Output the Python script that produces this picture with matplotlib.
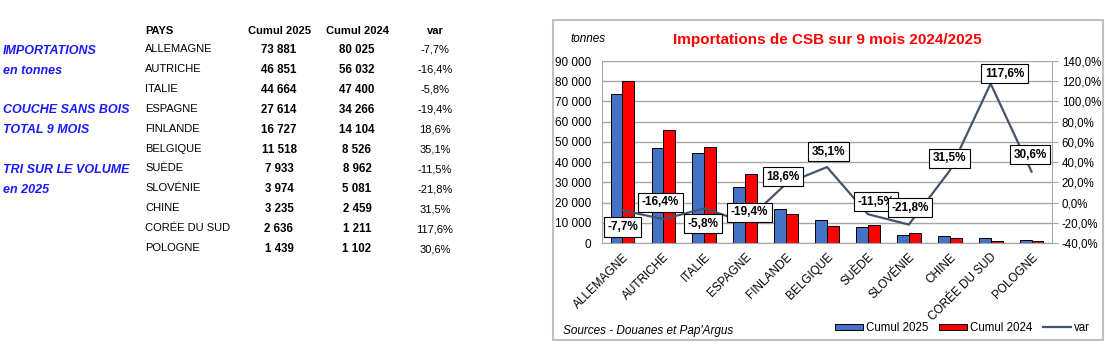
import numpy as np
import matplotlib.pyplot as plt
from matplotlib.patches import Rectangle

plt.rcParams['font.family'] = ['Liberation Sans', 'DejaVu Sans']

pays = ['ALLEMAGNE', 'AUTRICHE', 'ITALIE', 'ESPAGNE', 'FINLANDE', 'BELGIQUE',
        'SUÈDE', 'SLOVÉNIE', 'CHINE', 'CORÉE DU SUD', 'POLOGNE']
cumul_2025 = [73881, 46851, 44664, 27614, 16727, 11518, 7933, 3974, 3235, 2636, 1439]
cumul_2024 = [80025, 56032, 47400, 34266, 14104, 8526, 8962, 5081, 2459, 1211, 1102]
var = [-7.7, -16.4, -5.8, -19.4, 18.6, 35.1, -11.5, -21.8, 31.5, 117.6, 30.6]
# label offsets (points) of the var data labels
lab_off = [(0, -12), (-2, 12), (-1, -11), (3, 7), (-2, 5), (1, 11),
           (6, 9), (1, 12), (0, 9), (10, 7), (-1, 12)]

W, H = 1105, 360
fig = plt.figure(figsize=(W / 100, H / 100), dpi=100)


def fx(x):
    return x / W


def fy(y):
    return 1 - y / H


def fmt_int(v):
    return f"{v:,}".replace(",", " ")


def fmt_pct(v):
    return f"{v:.1f}%".replace(".", ",")


# ---- table on the left
blue = '#1a1aff'
for txt, y in [('IMPORTATIONS', 51), ('en tonnes', 71), ('COUCHE SANS BOIS', 110),
               ('TOTAL 9 MOIS', 130), ('TRI SUR LE VOLUME', 170), ('en 2025', 190)]:
    fig.text(fx(3), fy(y), txt, color=blue, fontsize=9, fontweight='bold',
             fontstyle='italic', va='center', ha='left')

fig.text(fx(145), fy(31), 'PAYS', fontsize=8, fontweight='bold', va='center')
fig.text(fx(279), fy(31), 'Cumul 2025', fontsize=8, fontweight='bold', va='center', ha='center')
fig.text(fx(357), fy(31), 'Cumul 2024', fontsize=8, fontweight='bold', va='center', ha='center')
fig.text(fx(435), fy(31), 'var', fontsize=8, fontweight='bold', va='center', ha='center')
for i, p in enumerate(pays):
    y = 49 + i * 19.9
    fig.text(fx(145), fy(y), p, fontsize=8, va='center')
    fig.text(fx(279), fy(y + 1), fmt_int(cumul_2025[i]), fontsize=8.3, fontweight='bold',
             va='center', ha='center')
    fig.text(fx(357), fy(y + 1), fmt_int(cumul_2024[i]), fontsize=8.3, fontweight='bold',
             va='center', ha='center')
    fig.text(fx(435), fy(y + 1), fmt_pct(var[i]), fontsize=8, va='center', ha='center')

# ---- chart frame
fig.patches.append(Rectangle((fx(553), fy(340)), fx(1103) - fx(553), fy(20) - fy(340),
                             transform=fig.transFigure, fill=False,
                             edgecolor='#bfbfbf', linewidth=1.5))

ax = fig.add_axes([fx(602), fy(243), fx(1052) - fx(602), fy(61) - fy(243)])
x = np.arange(len(pays))
w = 0.29
ax.bar(x - w / 2, cumul_2025, w, color='#4472C4', edgecolor='black', linewidth=0.7,
       label='Cumul 2025', zorder=2)
ax.bar(x + w / 2, cumul_2024, w, color='#FF0000', edgecolor='black', linewidth=0.7,
       label='Cumul 2024', zorder=2)
ax.set_xlim(-0.5, len(pays) - 0.5)
ax.set_ylim(0, 90000)
ax.set_yticks(np.arange(0, 90001, 10000))
ax.set_yticklabels([fmt_int(v) for v in range(0, 90001, 10000)], fontsize=8.5)
ax.grid(axis='y', color='#a6a6a6', linewidth=1, zorder=0)
ax.set_axisbelow(True)
ax.set_xticks(x)
ax.set_xticklabels(pays, rotation=45, ha='right', rotation_mode='anchor', fontsize=8.5)
ax.tick_params(axis='x', length=0, pad=6)
ax.tick_params(axis='y', length=0, pad=8)
for s in ['top', 'right']:
    ax.spines[s].set_visible(False)
for s in ['left', 'bottom']:
    ax.spines[s].set_color('#a6a6a6')

ax2 = ax.twinx()
ax2.plot(x, var, color='#44546A', linewidth=1.6, label='var', zorder=3)
ax2.set_ylim(-40, 140)
ax2.set_yticks(np.arange(-40, 141, 20))
ax2.set_yticklabels([fmt_pct(v) for v in range(-40, 141, 20)], fontsize=8.3)
ax2.tick_params(axis='y', length=4, color='#a6a6a6', pad=3)
for s in ['top', 'left', 'bottom']:
    ax2.spines[s].set_visible(False)
ax2.spines['right'].set_color('#a6a6a6')
for i, v in enumerate(var):
    ax2.annotate(fmt_pct(v), (x[i], v), xytext=lab_off[i], textcoords='offset points',
                 ha='center', va='center', fontsize=8.5, fontweight='bold',
                 bbox=dict(boxstyle='square,pad=0.3', fc='white', ec='black', lw=0.8),
                 zorder=5)

fig.text(fx(827), fy(40), 'Importations de CSB sur 9 mois 2024/2025', color='#FF0000',
         fontsize=11, fontweight='bold', ha='center', va='center')
fig.text(fx(570), fy(39), 'tonnes', fontsize=8.5, fontstyle='italic', va='center')
fig.text(fx(563), fy(331), "Sources - Douanes et Pap'Argus", fontsize=8.5,
         fontstyle='italic', va='center')

h1, l1 = ax.get_legend_handles_labels()
h2, l2 = ax2.get_legend_handles_labels()
fig.legend(h1 + h2, l1 + l2, loc='center right', bbox_to_anchor=(fx(1096), fy(328)),
           ncol=3, frameon=False, fontsize=8.3, handlelength=2.4, handleheight=0.45,
           handletextpad=0.3, columnspacing=0.9, borderpad=0)

fig.savefig('out.png', dpi=100)
